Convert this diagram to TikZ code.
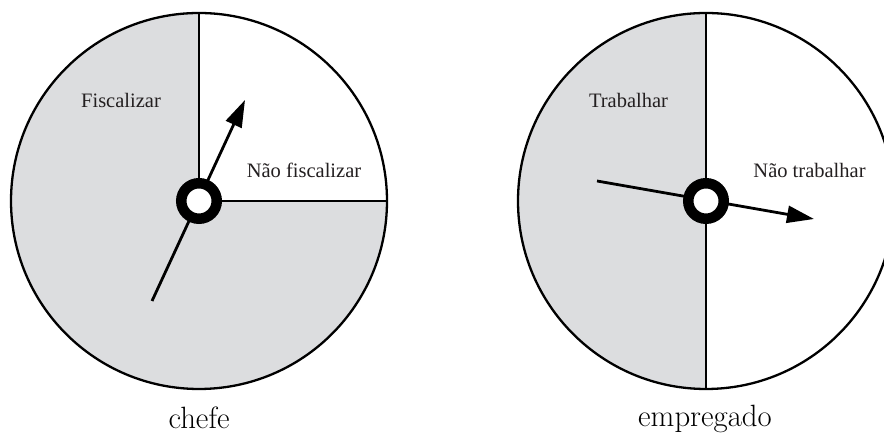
\documentclass[tikz,border=0pt]{standalone}
\usepackage{fontspec}
\newfontfamily\labelfont{Liberation Serif}
\usetikzlibrary{arrows.meta}
\definecolor{wheelgrey}{RGB}{220,221,223}
\definecolor{labelink}{RGB}{35,31,32}
\tikzset{
  outline/.style={draw=black, line width=2.3bp},
  divider/.style={draw=black, line width=2.3bp},
  pointer/.style={draw=black, line width=2.8bp, -{Triangle[length=27bp,width=17bp]}},
  hubring/.style={circle, draw=black, fill=white, line width=10.5bp, minimum size=35.5bp, inner sep=0pt},
  sector/.style={font=\labelfont\fontsize{20.5bp}{24bp}\selectfont, text=labelink, anchor=base, inner sep=0pt},
  caption/.style={font=\fontsize{30.8bp}{36bp}\selectfont, anchor=base, inner sep=0pt}
}
\begin{document}
\begin{tikzpicture}[x=1bp,y=1bp]
\useasboundingbox (0,0) rectangle (884,434);
\clip (0,0) rectangle (884,434);
% ---- left wheel (chefe) ----
\coordinate (cL) at (199,233);
\fill[wheelgrey] (cL) circle[radius=188];
\fill[white] (cL) -- ++(188,0) arc[start angle=0,end angle=90,radius=188] -- cycle;
\draw[divider] (cL) -- ++(0,188);
\draw[divider] (cL) -- ++(188,0);
\draw[outline] (cL) circle[radius=188];
\coordinate (tailL) at (152,133);
\coordinate (tipL) at (245,334);
\draw[pointer] (tailL) -- (tipL);
\node[hubring] (hubL) at (cL) {};
\node[sector] (fisc) at (121,326) {Fiscalizar};
\node[sector] (naofisc) at (304,256) {Não fiscalizar};
\node[caption] (chefe) at (199,5.5) {chefe};
% ---- right wheel (empregado) ----
\coordinate (cR) at (706,233);
\fill[white] (cR) circle[radius=188];
\fill[wheelgrey] (cR) -- ++(0,188) arc[start angle=90,end angle=270,radius=188] -- cycle;
\draw[divider] (cR) ++(0,188) -- ++(0,-376);
\draw[outline] (cR) circle[radius=188];
\coordinate (tailR) at (597,253);
\coordinate (tipR) at (814,215);
\draw[pointer] (tailR) -- (tipR);
\node[hubring] (hubR) at (cR) {};
\node[sector] (trab) at (628.5,326) {Trabalhar};
\node[sector] (naotrab) at (809.5,256) {Não trabalhar};
\node[caption] (empregado) at (705,7.5) {empregado};
\end{tikzpicture}
\end{document}
